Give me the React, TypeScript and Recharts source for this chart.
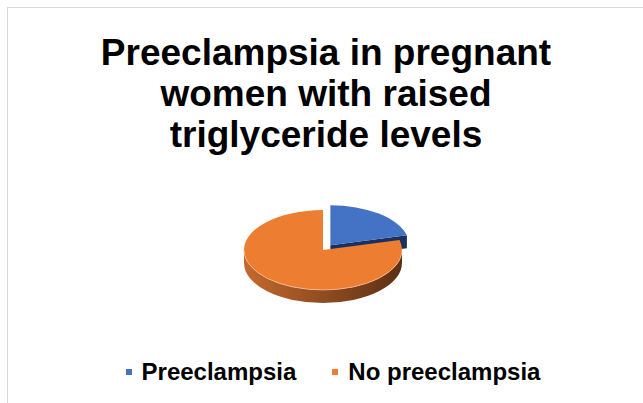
import { PieChart, Pie, Cell, Legend } from "recharts";

const categories = ["Preeclampsia", "No preeclampsia"];
const shares = [21, 79];
const colors = ["#4472C4", "#ED7D31"];
const titleLines = ["Preeclampsia in pregnant", "women with raised", "triglyceride levels"];

const data = categories.map((name, i) => ({ name, value: shares[i] }));

const TILT = 0.506;
const DEPTH = 13;
const EXPLODE = [12, 0];
const SIDE = [
  ["#2c4f8e", "#1a3160"],
  ["#c4692e", "#5b3013"],
];
const FONT = "'Liberation Sans', Arial, sans-serif";

const rad = (d: number) => (d * Math.PI) / 180;

function Slice3D(props: any) {
  const { cx, cy, outerRadius, startAngle, endAngle } = props;
  const name = props.payload?.name ?? props.name;
  const index = Math.max(0, categories.indexOf(name));
  const lo = Math.min(startAngle, endAngle);
  const hi = Math.max(startAngle, endAngle);
  const mid = (lo + hi) / 2;
  const e = EXPLODE[index] ?? 0;
  const x0 = cx + e * Math.cos(rad(mid));
  const y0 = cy - e * TILT * Math.sin(rad(mid));
  const rx = outerRadius;
  const ry = outerRadius * TILT;
  const p = (a: number, dy = 0) =>
    `${x0 + rx * Math.cos(rad(a))},${y0 - ry * Math.sin(rad(a)) + dy}`;
  const large = hi - lo > 180 ? 1 : 0;
  const gid = `side-${index}`;

  // outer wall, only the front half of the ellipse shows
  const walls: [number, number][] = [];
  for (let k = -2; k <= 1; k++) {
    const a = Math.max(lo, 180 + 360 * k);
    const b = Math.min(hi, 360 + 360 * k);
    if (b > a) walls.push([a, b]);
  }

  const faces: number[] = [];
  if (Math.cos(rad(lo)) > 0.001) faces.push(lo);
  if (Math.cos(rad(hi)) < -0.001) faces.push(hi);

  return (
    <g>
      <defs>
        <linearGradient id={gid} x1="0" y1="0" x2="1" y2="0">
          <stop offset="0%" stopColor={SIDE[index][0]} />
          <stop offset="100%" stopColor={SIDE[index][1]} />
        </linearGradient>
      </defs>
      {faces.map((a) => (
        <path
          key={`f${a}`}
          d={`M${x0},${y0} L${p(a)} L${p(a, DEPTH)} L${x0},${y0 + DEPTH} Z`}
          fill={SIDE[index][1]}
        />
      ))}
      {walls.map(([a, b]) => (
        <path
          key={`w${a}`}
          d={`M${p(a)} A${rx},${ry} 0 0 0 ${p(b)} L${p(b, DEPTH)} A${rx},${ry} 0 0 1 ${p(a, DEPTH)} Z`}
          fill={`url(#${gid})`}
        />
      ))}
      <path
        d={`M${x0},${y0} L${p(lo)} A${rx},${ry} 0 ${large} 0 ${p(hi)} Z`}
        fill={colors[index]}
      />
      {walls.map(([a, b]) => (
        <path
          key={`h${a}`}
          d={`M${p(a)} A${rx},${ry} 0 0 0 ${p(b)}`}
          fill="none"
          stroke="#f5c9a6"
          strokeWidth={0.7}
        />
      ))}
    </g>
  );
}

function LegendRow(props: any) {
  const items = [...(props.payload || [])].sort(
    (a: any, b: any) => categories.indexOf(a.value) - categories.indexOf(b.value)
  );
  return (
    <div
      style={{
        display: "flex",
        justifyContent: "center",
        paddingLeft: 23,
        fontFamily: FONT,
        fontWeight: "bold",
        fontSize: 24,
        color: "#000",
      }}
    >
      {items.map((item: any, i: number) => (
        <div
          key={item.value}
          style={{ display: "flex", alignItems: "center", marginRight: i === 0 ? 36 : 0 }}
        >
          <span
            style={{
              width: 6,
              height: 6,
              background: colors[categories.indexOf(item.value)],
              marginRight: 10,
              display: "inline-block",
            }}
          />
          <span>{item.value}</span>
        </div>
      ))}
    </div>
  );
}

export default function App() {
  return (
    <div
      style={{
        position: "absolute",
        left: 0,
        top: 0,
        width: 643,
        height: 403,
        overflow: "hidden",
        background: "#fff",
      }}
    >
      <div
        style={{
          position: "absolute",
          left: 7,
          top: 7,
          width: 700,
          height: 500,
          border: "1px solid #d9d9d9",
        }}
      />
      <svg width={643} height={180} style={{ position: "absolute", left: 0, top: 0 }}>
        {titleLines.map((line, i) => (
          <text
            key={line}
            x={326}
            y={65 + i * 41}
            textAnchor="middle"
            fontFamily={FONT}
            fontWeight="bold"
            fontSize={37}
            fill="#000"
          >
            {line}
          </text>
        ))}
      </svg>
      <div style={{ position: "absolute", left: 0, top: 0 }}>
        <PieChart width={643} height={403}>
          <Pie
            data={data}
            dataKey="value"
            nameKey="name"
            cx={318}
            cy={245}
            outerRadius={79}
            startAngle={90}
            endAngle={-270}
            stroke="none"
            isAnimationActive={false}
            shape={Slice3D}
            inactiveShape={Slice3D}
            activeShape={Slice3D}
          >
            {data.map((d, i) => (
              <Cell key={d.name} fill={colors[i]} />
            ))}
          </Pie>
          <Legend
            content={LegendRow}
            wrapperStyle={{ position: "absolute", left: 0, top: 358, width: 643 }}
          />
        </PieChart>
      </div>
    </div>
  );
}
